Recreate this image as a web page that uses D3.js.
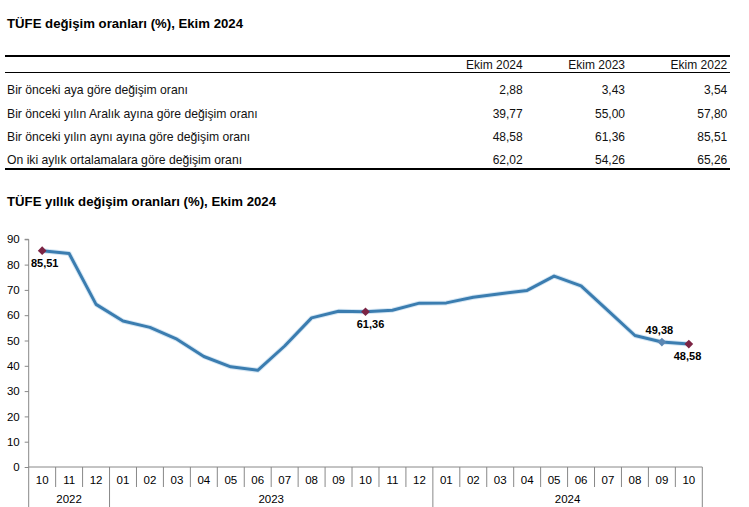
<!DOCTYPE html>
<html><head><meta charset="utf-8">
<script src="https://cdn.jsdelivr.net/npm/d3@7"></script>
<style>
html,body{margin:0;padding:0;background:#fff;}
svg{display:block;font-family:"Liberation Sans",Arial,sans-serif;}
</style></head>
<body>
<svg id="c" width="749" height="507"></svg>
<script>
// ---- Data ----
const tableTitle = "TÜFE değişim oranları (%), Ekim 2024";
const tableColumns = ["Ekim 2024", "Ekim 2023", "Ekim 2022"];
const tableRows = [
  "Bir önceki aya göre değişim oranı",
  "Bir önceki yılın Aralık ayına göre değişim oranı",
  "Bir önceki yılın aynı ayına göre değişim oranı",
  "On iki aylık ortalamalara göre değişim oranı"
];
const tableValues = [
  ["2,88", "3,43", "3,54"],
  ["39,77", "55,00", "57,80"],
  ["48,58", "61,36", "85,51"],
  ["62,02", "54,26", "65,26"]
];
const chartTitle = "TÜFE yıllık değişim oranları (%), Ekim 2024";
const months = ["10","11","12","01","02","03","04","05","06","07","08","09","10","11","12","01","02","03","04","05","06","07","08","09","10"];
const years = [{label:"2022", start:0, end:3},{label:"2023", start:3, end:15},{label:"2024", start:15, end:25}];
const annualRate = [85.51,84.39,64.27,57.68,55.18,50.51,43.68,39.59,38.21,47.83,58.94,61.53,61.36,61.98,64.77,64.86,67.07,68.50,69.80,75.45,71.60,61.78,51.97,49.38,48.58];
const yTicks = [0,10,20,30,40,50,60,70,80,90];
// labelled points: index, label position
const labelled = [
  {i:0, pos:"below", kind:"red"},
  {i:12, pos:"below", kind:"red"},
  {i:23, pos:"above", kind:"blue"},
  {i:24, pos:"below", kind:"red"}
];

const svg = d3.select("#c");
const fmt = v => d3.format(".2f")(v).replace(".", ",");

// ---- Table ----
svg.append("text").attr("x", 7).attr("y", 28).attr("font-size", 13.2).attr("font-weight", "bold").attr("fill", "#000").text(tableTitle);
const colX = d3.scaleOrdinal().domain(tableColumns).range([522.7, 625, 727.3]);
const rowY = d3.scalePoint().domain(d3.range(tableRows.length)).range([90, 160]);
svg.append("line").attr("x1", 5).attr("x2", 730).attr("y1", 56).attr("y2", 56).attr("stroke", "#000").attr("stroke-width", 2);
svg.append("line").attr("x1", 5).attr("x2", 730).attr("y1", 72.5).attr("y2", 72.5).attr("stroke", "#000").attr("stroke-width", 1);
svg.append("line").attr("x1", 5).attr("x2", 730).attr("y1", 169).attr("y2", 169).attr("stroke", "#000").attr("stroke-width", 2);
svg.selectAll("text.hdr").data(tableColumns).join("text").attr("class","hdr")
  .attr("x", d => colX(d)).attr("y", 65).attr("dy", "0.35em").attr("text-anchor", "end")
  .attr("font-size", 12).attr("fill", "#111").text(d => d);
svg.selectAll("text.rl").data(tableRows).join("text").attr("class","rl")
  .attr("x", 7).attr("y", (d,i) => rowY(i)).attr("dy", "0.35em")
  .attr("font-size", 12.2).attr("fill", "#111").text(d => d);
tableValues.forEach((row, ri) => {
  svg.selectAll("text.v"+ri).data(row).join("text").attr("class","v"+ri)
    .attr("x", (d,ci) => colX(tableColumns[ci])).attr("y", rowY(ri)).attr("dy", "0.35em")
    .attr("text-anchor", "end").attr("font-size", 12).attr("fill", "#111").text(d => d);
});

// ---- Chart ----
svg.append("text").attr("x", 7).attr("y", 206).attr("font-size", 13.2).attr("font-weight", "bold").attr("fill", "#000").text(chartTitle);

const x = d3.scaleBand().domain(d3.range(months.length)).range([28.7, 702.3]).paddingInner(0).paddingOuter(0);
const y = d3.scaleLinear().domain([0, 90]).range([467, 239.3]);
const axisCol = "#888";

// y axis
const yAxis = svg.append("g").attr("transform", "translate(28.7,0)")
  .call(d3.axisLeft(y).tickValues(yTicks).tickSize(4).tickPadding(5).tickFormat(d => d));
yAxis.select(".domain").attr("stroke", axisCol).attr("d", `M-4,${y(90)}H0V${y(0)}`);
yAxis.selectAll(".tick line").attr("stroke", axisCol);
yAxis.selectAll(".tick text").attr("font-size", 11.5).attr("fill", "#000").attr("font-family", "Liberation Sans, Arial, sans-serif");

// x axis
const xg = svg.append("g");
xg.append("line").attr("x1", x.range()[0]).attr("x2", x.range()[1]).attr("y1", y(0)).attr("y2", y(0)).attr("stroke", axisCol);
const yearBounds = new Set(years.map(d => d.start).concat(years.map(d => d.end)));
d3.range(months.length + 1).forEach(i => {
  const xx = i < months.length ? x(i) : x.range()[1];
  xg.append("line").attr("x1", xx).attr("x2", xx).attr("y1", y(0)).attr("y2", yearBounds.has(i) ? 507 : 487).attr("stroke", axisCol);
});
xg.selectAll("text.m").data(months).join("text").attr("class","m")
  .attr("x", (d,i) => x(i) + x.bandwidth()/2).attr("y", 480).attr("dy", "0.35em").attr("text-anchor", "middle")
  .attr("font-size", 11.5).attr("fill", "#000").text(d => d);
xg.selectAll("text.yr").data(years).join("text").attr("class","yr")
  .attr("x", d => (x(d.start) + (d.end < months.length ? x(d.end) : x.range()[1]))/2).attr("y", 499).attr("dy", "0.35em")
  .attr("text-anchor", "middle").attr("font-size", 11.5).attr("fill", "#000").text(d => d.label);

// line
const cx = i => x(i) + x.bandwidth()/2;
const line = d3.line().x((d,i) => cx(i)).y(d => y(d));
svg.append("path").datum(annualRate).attr("d", line).attr("fill", "none").attr("stroke", "#d6e7f4").attr("stroke-width", 5).attr("stroke-linejoin", "round");
svg.append("path").datum(annualRate).attr("d", line).attr("fill", "none").attr("stroke", "#3b7db0").attr("stroke-width", 3).attr("stroke-linejoin", "round");

// markers (diamond = square rotated 45°)
const diamond = d3.symbol().type(d3.symbolSquare).size(38);
svg.selectAll("path.mk").data(labelled).join("path").attr("class","mk")
  .attr("d", diamond).attr("transform", d => `translate(${cx(d.i)},${y(annualRate[d.i])}) rotate(45)`)
  .attr("fill", d => d.kind === "red" ? "#7c2444" : "#5b87b3");
svg.selectAll("text.dl").data(labelled).join("text").attr("class","dl")
  .attr("x", d => cx(d.i) + (d.i === 0 ? 2.5 : d.i === 12 ? 5 : d.i === 23 ? -2.5 : -1.3))
  .attr("y", d => y(annualRate[d.i]) + (d.pos === "below" ? 12.5 : -12)).attr("dy", "0.35em")
  .attr("text-anchor", "middle").attr("font-size", 11).attr("font-weight", "bold").attr("fill", "#000")
  .text(d => fmt(annualRate[d.i]));
</script>
</body></html>
